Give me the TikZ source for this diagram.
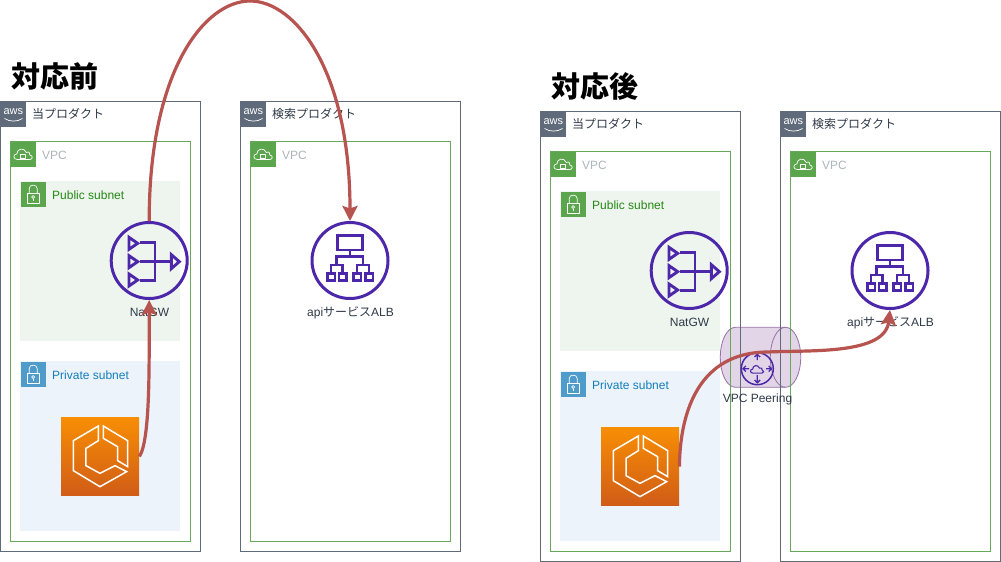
\documentclass[tikz,border=0pt]{standalone}
\usepackage{fontspec}
\setmainfont{Liberation Sans}
\newfontfamily\cjk{Noto Sans CJK JP}
\usetikzlibrary{arrows.meta}
\definecolor{awsline}{HTML}{5F6B7A}
\definecolor{awsink}{HTML}{2F3A48}
\definecolor{vpcline}{HTML}{66A95A}
\definecolor{vpctext}{HTML}{AAB7B8}
\definecolor{pubfill}{HTML}{EEF5EE}
\definecolor{pubtext}{HTML}{248814}
\definecolor{pubicon}{HTML}{5BA64D}
\definecolor{prifill}{HTML}{ECF3FA}
\definecolor{pritext}{HTML}{147EBA}
\definecolor{priicon}{HTML}{4F9CCB}
\definecolor{awspurple}{HTML}{4D27AA}
\definecolor{flowred}{HTML}{B85450}
\definecolor{cylfill}{HTML}{E1D5E7}
\definecolor{cylline}{HTML}{9673A6}
\definecolor{ecstop}{HTML}{F78E04}
\definecolor{ecsbot}{HTML}{D05C17}
\tikzset{
  lab/.style={font=\fontsize{12}{14}\selectfont,inner sep=0pt,text=awsink},
  titlelab/.style={font=\cjk\bfseries\fontsize{29}{32}\selectfont,inner sep=0pt,anchor=west,text=black},
  grp/.style={draw=awsline,line width=0.9pt},
  vpcbox/.style={draw=vpcline,line width=0.9pt},
  round icon/.style={circle,draw=awspurple,line width=3pt,minimum size=76pt,inner sep=0pt},
  glyph/.style={draw=awspurple,line width=2.9pt,line join=miter},
  flow/.style={draw=flowred,line width=3.2pt,-{Stealth[length=15pt,width=15pt,inset=2.5pt]}},
  wl/.style={draw=white,line width=0.7pt,line join=round},
  ecsl/.style={draw=white,line width=1.5pt,line join=miter},
  lockicon/.pic={
    \draw[wl] (-6.3,0.5) rectangle (6.3,10.5);
    \draw[wl] (-4,0.5) -- (-4,-4) .. controls (-4,-8.5) and (4,-8.5) .. (4,-4) -- (4,0.5);
    \draw[wl] (0,4.5) circle (1.5);
    \draw[wl] (0,6) -- (0,8.5);
  },
  cloudline/.pic={
    \draw[#1] (-6,5) .. controls (-10.5,5) and (-10.5,-0.5) .. (-6.5,-0.5)
       .. controls (-6.5,-6) and (1,-7.5) .. (3,-2)
       .. controls (6,-3.5) and (7,-1) .. (6.5,0.5)
       .. controls (10,1) and (9.5,5) .. (6.5,5) -- cycle;
  },
  panel/.pic={
    % AWS groups
    \draw[grp] (0.5,101.5) rectangle (200.5,551.5);
    \draw[grp] (240.5,101.5) rectangle (460.5,551.5);
    \fill[awsline] (0.7,101.7) rectangle (26,126.7);
    \fill[awsline] (240.7,101.7) rectangle (266,126.7);
    \node[font=\fontsize{11}{12}\selectfont,text=white,inner sep=0pt] (awsa) at (13.3,112) {aws};
    \node[font=\fontsize{11}{12}\selectfont,text=white,inner sep=0pt] (awsb) at (253.3,112) {aws};
    \draw[white,line width=0.7pt] (4.5,118.5) .. controls (10,122) and (17,122) .. (22.5,118.5);
    \draw[white,line width=0.7pt] (244.5,118.5) .. controls (250,122) and (257,122) .. (262.5,118.5);
    \node[lab,anchor=west] (gl) at (32,114) {\cjk 当プロダクト};
    \node[lab,anchor=west] (gr) at (272,114) {\cjk 検索プロダクト};
    % VPCs
    \draw[vpcbox] (10.5,141.5) rectangle (190.5,541.5);
    \draw[vpcbox] (250.5,141.5) rectangle (450.5,541.5);
    \fill[pubicon] (10.7,141.7) rectangle (36,166.7);
    \fill[pubicon] (250.7,141.7) rectangle (276,166.7);
    \pic at (23.3,154.5) {cloudline=wl};
    \pic at (263.3,154.5) {cloudline=wl};
    \draw[wl] (20.8,154.5) rectangle (25.8,158);
    \draw[wl] (260.8,154.5) rectangle (265.8,158);
    \node[lab,anchor=west,text=vpctext] (vl) at (42,155) {VPC};
    \node[lab,anchor=west,text=vpctext] (vr) at (282,155) {VPC};
    % subnets
    \fill[pubfill] (20,181) rectangle (180,341);
    \fill[prifill] (20,361) rectangle (180,531);
    \fill[pubicon] (20.7,181.7) rectangle (45.7,206.7);
    \fill[priicon] (20.7,361.7) rectangle (45.7,386.7);
    \pic at (33.2,192.5) {lockicon};
    \pic at (33.2,372.5) {lockicon};
    \node[lab,anchor=west,text=pubtext] (sp) at (52,195) {Public subnet};
    \node[lab,anchor=west,text=pritext] (sq) at (52,375) {Private subnet};
    % NAT gateway
    \node[round icon] (nat) at (149.2,260.5) {};
    \begin{scope}[shift={(50,210)},x=0.3333pt,y=-0.3333pt]
      \draw[glyph] (237,82) -- (263,100) -- (237,118) -- cycle;
      \draw[glyph] (237,137) -- (263,155) -- (237,173) -- cycle;
      \draw[glyph] (237,192) -- (263,210) -- (237,228) -- cycle;
      \draw[glyph] (270,98) -- (315,98) -- (315,212) -- (270,212);
      \draw[glyph] (270,155) -- (362,155);
      \draw[glyph] (364,134) -- (388,155) -- (364,176) -- cycle;
    \end{scope}
    \node[lab] (natlab) at (149.5,312.5) {NatGW};
    % ALB
    \node[round icon] (alb) at (350,260.5) {};
    \begin{scope}[shift={(290,210)},x=0.3333pt,y=-0.3333pt]
      \draw[glyph] (142,77) rectangle (218,120);
      \draw[glyph] (180,120) -- (180,140);
      \draw[glyph] (140,165) -- (140,140) -- (219,140) -- (219,165);
      \draw[glyph] (123,190) -- (123,165) -- (158,165) -- (158,190);
      \draw[glyph] (201,190) -- (201,165) -- (237,165) -- (237,190);
      \draw[glyph] (112,190) rectangle (135,212);
      \draw[glyph] (147,190) rectangle (170,212);
      \draw[glyph] (190,190) rectangle (213,212);
      \draw[glyph] (226,190) rectangle (249,212);
    \end{scope}
    \node[lab] (alblab) at (350.5,312.5) {api{\cjk サービス}ALB};
    % ECS
    \node[minimum size=78pt,inner sep=0pt,top color=ecstop,bottom color=ecsbot] (ecs) at (100.2,456.5) {};
    \begin{scope}[shift={(50,400)},x=0.3333pt,y=-0.3333pt]
      \draw[ecsl] (145,78) -- (70,122) -- (70,212) -- (150,260) -- (230,215) -- (195,197) -- (150,220) -- (108,197) -- (108,145) -- (145,122) -- cycle;
      \draw[ecsl] (160,78) -- (233,122) -- (233,200) -- (203,182) -- (203,140) -- (160,115) -- cycle;
    \end{scope}
  }
}
\begin{document}
\begin{tikzpicture}[x=1pt,y=-1pt]
  \useasboundingbox (0,0) rectangle (1001,562);
  \fill[white] (0,0) rectangle (1001,562);
  % peering cylinder
  \path[fill=cylfill,draw=cylline,line width=0.8pt] (735.5,327.3) -- (785.5,327.3)
    .. controls (794,327.3) and (800.7,340.7) .. (800.7,357.3)
    .. controls (800.7,374) and (794,387.3) .. (785.5,387.3) -- (735.5,387.3)
    .. controls (727,387.3) and (720.3,374) .. (720.3,357.3)
    .. controls (720.3,340.7) and (727,327.3) .. (735.5,327.3) -- cycle;
  \draw[cylline,line width=0.8pt] (785.5,327.3)
    .. controls (777,327.3) and (770.3,340.7) .. (770.3,357.3)
    .. controls (770.3,374) and (777,387.3) .. (785.5,387.3);
  \node[titlelab] (tbefore) at (11,76) {対応前};
  \node[titlelab] (tafter) at (551,86) {対応後};
  \pic (l) at (0,0) {panel};
  \pic (r) at (540,10) {panel};
  % VPC peering icon
  \node[circle,draw=awspurple,line width=1.5pt,minimum size=32pt,inner sep=0pt] (peer) at (757.3,368.7) {};
  \pic at (757.3,369.5) {cloudline={draw=awspurple,line width=1.1pt,line join=round,scale=0.72}};
  \begin{scope}[line width=1.3pt]
    \draw[awspurple] (757.3,360) -- (757.3,354.5) (754.5,357) -- (757.3,354.3) -- (760.1,357);
    \draw[awspurple] (757.3,375) -- (757.3,382.8) (754.5,380) -- (757.3,382.8) -- (760.1,380);
    \draw[awspurple] (749,368.7) -- (743,368.7) (745.8,365.9) -- (743,368.7) -- (745.8,371.5);
    \draw[awspurple] (766,368.7) -- (771.5,368.7) (768.7,365.9) -- (771.5,368.7) -- (768.7,371.5);
  \end{scope}
  \node[lab] (peerlab) at (757.5,399) {VPC Peering};
  % connectors
  \coordinate (rmid) at (768,352);
  \coordinate (lpeak) at (250,1);
  \draw[flow] (lecs.east) .. controls (150,440) and (149.2,370) .. (lnat.south);
  \draw[flow] (lnat.north) .. controls (149,70) and (205,1) .. (lpeak) .. controls (295,1) and (350,70) .. (lalb.north);
  \draw[flow] (recs.east) .. controls (680,410) and (700,352) .. (rmid) .. controls (810,350) and (885,355) .. (ralb.south);
\end{tikzpicture}
\end{document}
